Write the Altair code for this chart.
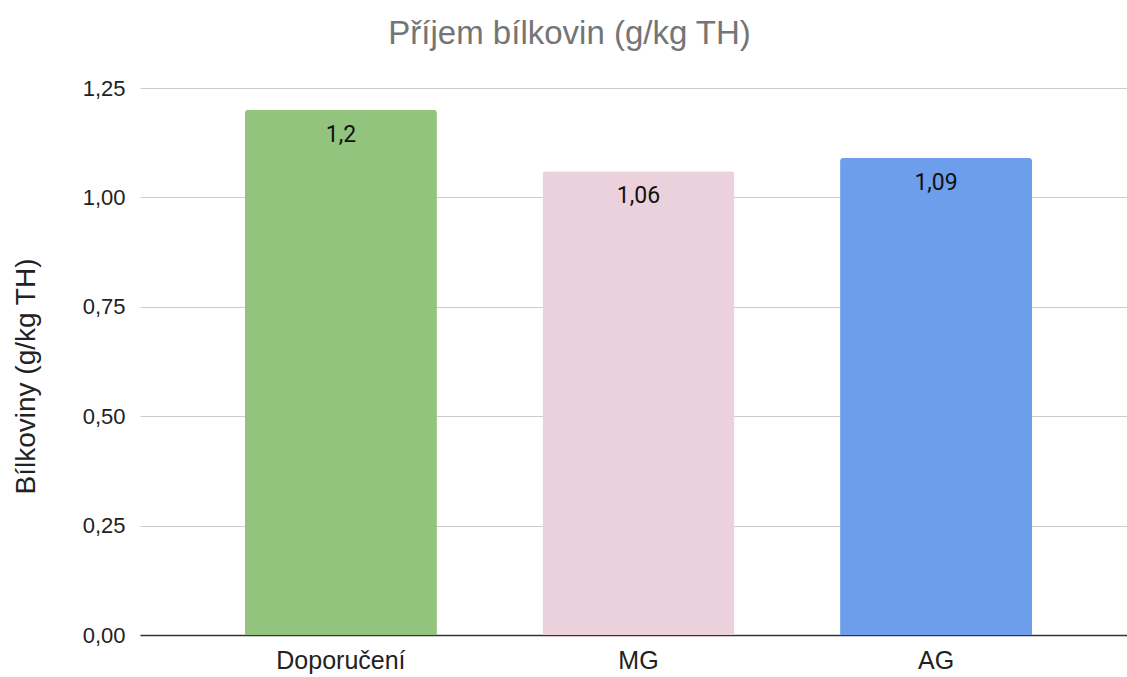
import altair as alt
import pandas as pd

categories = ["Doporučení", "MG", "AG"]
values = [1.2, 1.06, 1.09]
colors = ["#93c47d", "#ead1dc", "#6d9eeb"]

df = pd.DataFrame({"kategorie": categories, "hodnota": values})

x = alt.X(
    "kategorie:N",
    sort=categories,
    title=None,
    scale=alt.Scale(paddingInner=0.355, paddingOuter=0.336, align=0.525),
    axis=alt.Axis(
        labelAngle=0,
        labelFont="Liberation Sans",
        labelFontSize=25,
        labelColor="#222222",
        labelPadding=13,
        ticks=False,
        domainColor="#333333",
        domainWidth=1.3,
    ),
)

y = alt.Y(
    "hodnota:Q",
    title="Bílkoviny (g/kg TH)",
    scale=alt.Scale(domain=[0, 1.25], nice=False),
    axis=alt.Axis(
        values=[0, 0.25, 0.5, 0.75, 1.0, 1.25],
        labelExpr="replace(format(datum.value, '.2f'), '.', ',')",
        labelFont="Liberation Sans",
        labelFontSize=22,
        labelColor="#222222",
        labelPadding=15,
        ticks=False,
        domain=False,
        gridColor="#cccccc",
        gridWidth=1.2,
        titleFont="Liberation Sans",
        titleFontSize=28,
        titleFontWeight="normal",
        titleColor="#222222",
        titlePadding=42,
        titleY=288,
    ),
)

bars = alt.Chart(df).mark_bar(
    cornerRadiusTopLeft=3, cornerRadiusTopRight=3
).encode(
    x=x,
    y=y,
    color=alt.Color(
        "kategorie:N",
        scale=alt.Scale(domain=categories, range=colors),
        legend=None,
    ),
)

labels = alt.Chart(df).transform_calculate(
    popisek="replace(toString(datum.hodnota), '.', ',')"
).mark_text(
    font="Roboto", fontSize=23, color="#111111", baseline="middle", dy=25
).encode(
    x=alt.X("kategorie:N", sort=categories),
    y=alt.Y("hodnota:Q"),
    text="popisek:N",
)

chart = (
    alt.layer(bars, labels)
    .properties(
        width=987,
        height=547,
        autosize=alt.AutoSizeParams(type="none"),
        padding={"left": 140, "top": 88, "right": 0, "bottom": 42},
        title=alt.TitleParams(
            "Příjem bílkovin (g/kg TH)",
            font="Liberation Sans",
            fontSize=33,
            fontWeight="normal",
            color="#757575",
            anchor="middle",
            frame="bounds",
            offset=26,
        ),
    )
    .configure_view(stroke=None)
)

chart.save("out.html", embed_options={"renderer": "svg", "actions": False})
